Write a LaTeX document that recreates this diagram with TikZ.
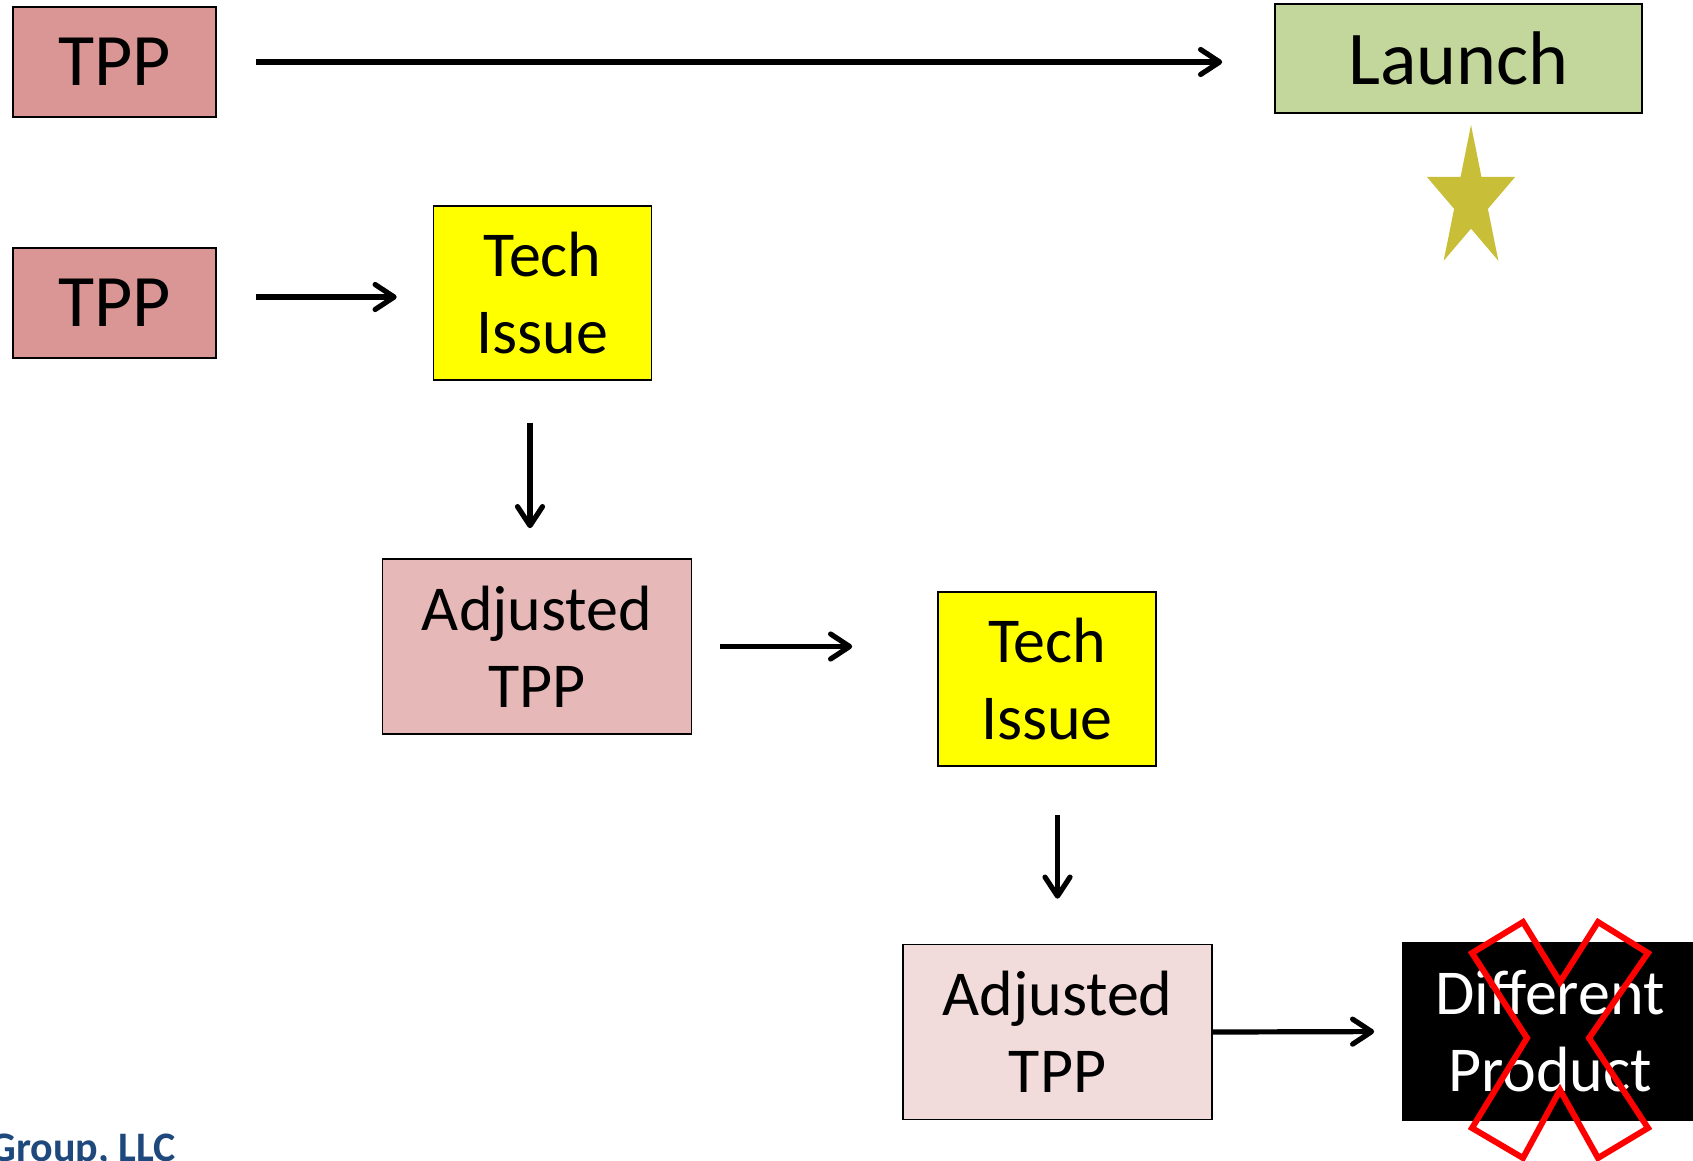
\documentclass[tikz,border=0pt]{standalone}
\usepackage{fontspec}
\setmainfont{Carlito}
\usepackage{tikz}
\usepackage{xcolor}
\usetikzlibrary{arrows.meta}
\definecolor{tppred}{HTML}{D99694}
\definecolor{adjred}{HTML}{E6B9B8}
\definecolor{adjpale}{HTML}{F2DCDB}
\definecolor{launchgreen}{HTML}{C3D69B}
\definecolor{techyellow}{HTML}{FFFF00}
\definecolor{stargold}{HTML}{C9BE37}
\definecolor{crossred}{HTML}{FF0000}
\definecolor{footblue}{HTML}{1F497D}
\tikzset{
  box/.style={draw=black,line width=1.6pt,align=center,inner sep=0pt,text=black},
  tppbox/.style={box,fill=tppred,minimum width=203pt,minimum height=110pt,
                 font=\fontsize{74}{88}\selectfont},
  launchbox/.style={box,fill=launchgreen,minimum width=367pt,minimum height=109pt,
                    font=\fontsize{76}{90}\selectfont},
  techbox/.style={box,fill=techyellow,minimum width=218pt,minimum height=174pt,
                  font=\fontsize{64}{77}\selectfont},
  adjbox/.style={box,minimum width=309pt,minimum height=175pt,
                 font=\fontsize{64}{77}\selectfont},
  endbox/.style={box,fill=black,text=white,minimum width=294pt,minimum height=177pt,
                 font=\fontsize{64}{77}\selectfont},
  flowarr/.style={-{Straight Barb[length=19pt,width=25pt,round]},line width=5.2pt,
                  draw=black},
  crossline/.style={draw=crossred,line width=6pt,line join=miter}
}
\begin{document}
\begin{tikzpicture}[x=1pt,y=-1pt]
    \path[use as bounding box] (0,0) rectangle (1693,1160);

    \node[tppbox] (tppA) at (114.5,62) {TPP};
    \node[launchbox] (launch) at (1458.5,58.5) {Launch};

    \node[tppbox] (tppB) at (114.5,303) {TPP};
    \node[techbox] (techA) at (542.5,293) {Tech\\Issue};
    \node[adjbox,fill=adjred] (adjA) at (537,646.5) {Adjusted\\TPP};

    \node[techbox] (techB) at (1047,679) {Tech\\Issue};
    \node[adjbox,fill=adjpale] (adjB) at (1057.5,1032) {Adjusted\\TPP};
    \node[endbox] (diff) at (1550,1031.5) {Different\\Product};

    % straight to launch
    \draw[flowarr,shorten <=39pt,shorten >=52pt] (tppA.east) -- (tppA.east -| launch.west);

    % the long way round
    \draw[flowarr,shorten <=39pt,shorten >=36pt]
      ([yshift=6pt]tppB.east) -- ([yshift=6pt]tppB.east -| techA.west);
    \draw[flowarr,shorten <=42pt,shorten >=30pt]
      ([xshift=-12.5pt]techA.south) -- ([xshift=-12.5pt]techA.south |- adjA.north);
    \draw[flowarr,shorten <=28pt,shorten >=85pt] (adjA.east) -- (adjA.east -| techB.west);
    \draw[flowarr,shorten <=48pt,shorten >=45pt] (adjB.north |- techB.south) -- (adjB.north);
    \draw[flowarr,shorten >=28pt] (adjB.east) -- (diff.west);

    % star under launch
    \fill[stargold,shift={(1471,200)},x=46.5pt,y=75pt]
      (90:1) -- (126:0.382) -- (162:1) -- (198:0.382) -- (234:1) -- (270:0.382)
      -- (306:1) -- (342:0.382) -- (18:1) -- (54:0.382) -- cycle;

    % cross over the end box
    \draw[crossline] (1523,922) -- (1472,953) -- (1527,1038) -- (1472,1128)
      -- (1523,1158) -- (1560,1090) -- (1598,1158) -- (1648,1128) -- (1589,1038)
      -- (1648,953) -- (1598,922) -- (1560,982) -- cycle;

    \node[anchor=base east,inner sep=0pt,text=footblue,
          font=\fontsize{42}{50}\selectfont\bfseries] (footer) at (176,1161) {Group, LLC};
\end{tikzpicture}
\end{document}
